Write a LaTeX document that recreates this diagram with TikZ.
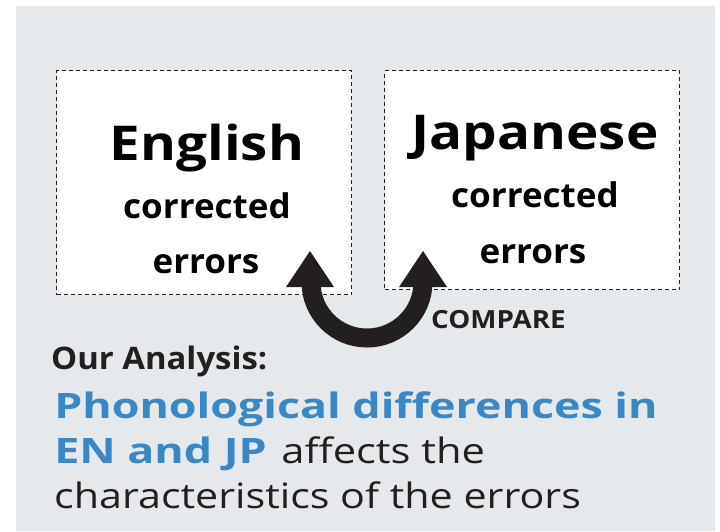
\documentclass[tikz,border=0pt]{standalone}
\usepackage{fontspec}
\setmainfont{Open Sans}
\usepackage{xcolor}
\usetikzlibrary{positioning}
\definecolor{panelgrey}{HTML}{E6E9EC}
\definecolor{inkblack}{HTML}{231F20}
\definecolor{titleblue}{HTML}{3A87C8}

\begin{document}
\begin{tikzpicture}[x=1pt,y=1pt,
  langbox/.style={draw=inkblack,dash pattern=on 4pt off 3pt,line width=1.2pt,fill=white,
    anchor=north west,inner sep=0pt},
  langname/.style={font=\bfseries\fontsize{48}{48}\selectfont,text=black,anchor=base,inner sep=0pt,xscale=1.14},
  sublabel/.style={font=\bfseries\fontsize{34}{34}\selectfont,text=black,anchor=base,inner sep=0pt,xscale=1.03},
  bodyline/.style={anchor=base west,inner sep=0pt,text=inkblack,font=\fontsize{35}{35}\selectfont,xscale=1.19},
  blueline/.style={anchor=base west,inner sep=0pt,text=titleblue,font=\bfseries\fontsize{35}{35}\selectfont,xscale=1.28}]
\useasboundingbox (0,0) rectangle (720,-531);
\fill[panelgrey] (16,-6) rectangle (715,-531);
\node[langbox,minimum width=295pt,minimum height=224pt] (enbox) at (56,-70) {};
\node[langbox,minimum width=295pt,minimum height=219pt] (jpbox) at (384,-70) {};
\node[langname] (en) at (207,-160) {English};
\node[sublabel] (encorr) at (207,-218) {corrected};
\node[sublabel] (enerr) at (206,-273) {errors};
\node[langname] (jp) at (535,-149) {Japanese};
\node[sublabel] (jpcorr) at (535,-207) {corrected};
\node[sublabel] (jperr) at (533,-263) {errors};
\coordinate (ltip) at (310,-251);
\coordinate (rtip) at (423,-251);
\draw[inkblack,line width=19pt] (311,-282) arc[start angle=180,end angle=360,radius=56];
\fill[inkblack] (ltip) -- ++(-24,-36) -- ++(48,0) -- cycle;
\fill[inkblack] (rtip) -- ++(-24,-36) -- ++(48,0) -- cycle;
\node[anchor=base west,inner sep=0pt,text=inkblack,font=\bfseries\fontsize{25}{25}\selectfont,xscale=1.11] (cmp) at (431,-328) {COMPARE};
\node[anchor=base west,inner sep=0pt,text=inkblack,font=\bfseries\fontsize{31}{31}\selectfont,xscale=1.06] (ours) at (51,-369) {Our Analysis:};
\node[blueline] (l1) at (54,-418) {Phonological differences in};
\node[blueline] (l2a) at (54,-463) {EN and JP};
\path (l2a.base east) ++(14,0) node[bodyline] (l2b) {affects the};
\node[bodyline,xscale=0.99] (l3) at (54,-508) {characteristics of the errors};
\end{tikzpicture}
\end{document}
